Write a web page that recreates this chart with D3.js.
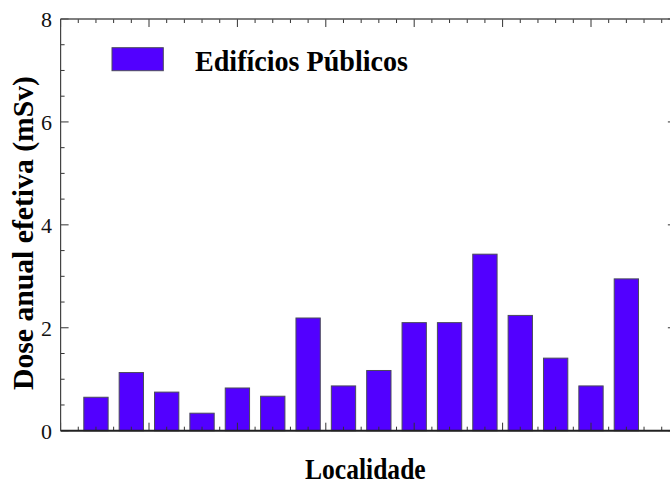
<!DOCTYPE html>
<html><head><meta charset="utf-8">
<script src="https://cdn.jsdelivr.net/npm/d3@7"></script>
<style>html,body{margin:0;padding:0;background:#fff;overflow:hidden}
svg text{font-family:"Liberation Serif","Times New Roman",serif}</style>
</head><body>
<script>
const categories = ["L1","L2","L3","L4","L5","L6","L7","L8","L9","L10","L11","L12","L13","L14","L15","L16"];
const doseValues = [0.65,1.13,0.75,0.34,0.83,0.67,2.19,0.87,1.17,2.10,2.10,3.43,2.24,1.41,0.87,2.95];
const seriesName = "Edifícios Públicos";
const yTickLabels = [0,2,4,6,8];
const xLabel = "Localidade";
const yLabel = "Dose anual efetiva (mSv)";

(function(){
const W = 670, H = 484;
const pL = 60.6, pT = 19, pB = 430.7;
const unitPx = 88.4, xMax = 6.96;
const pR = pL + unitPx * xMax;
const svg = d3.select("body").append("svg").attr("width", W).attr("height", H);

const x = d3.scaleLinear().domain([0, xMax]).range([pL, pR]);
const y = d3.scaleLinear().domain([0, 8]).range([pB, pT]);
const step = 0.4, barW = 0.275;

// bars
svg.selectAll("rect.bar").data(doseValues).join("rect")
  .attr("class","bar")
  .attr("x", (d,i) => x((i+1)*step - barW/2))
  .attr("width", x(barW) - x(0))
  .attr("y", d => y(d))
  .attr("height", d => y(0) - y(d))
  .attr("fill", "#5200ff").attr("stroke", "#4a4a5a").attr("stroke-width", 1);

// ticks
const axisColor = "#333";
const xMinor = d3.range(0, xMax + 0.0001, 0.2);
const yMinor = d3.range(0, 8.0001, 0.5);
const isMajor = v => Math.abs(v - Math.round(v)) < 1e-6;
const isMajorY = v => Math.abs(v/2 - Math.round(v/2)) < 1e-6;
const g = svg.append("g").attr("stroke", axisColor).attr("stroke-width", 1);
xMinor.forEach(v => {
  const L = isMajor(v) ? 8 : 4;
  g.append("line").attr("x1", x(v)).attr("x2", x(v)).attr("y1", pB).attr("y2", pB - L);
  g.append("line").attr("x1", x(v)).attr("x2", x(v)).attr("y1", pT).attr("y2", pT + L);
});
yMinor.forEach(v => {
  const L = isMajorY(v) ? 8 : 4;
  g.append("line").attr("x1", pL).attr("x2", pL + L).attr("y1", y(v)).attr("y2", y(v));
  g.append("line").attr("x1", pR).attr("x2", pR - L).attr("y1", y(v)).attr("y2", y(v));
});
// frame
svg.append("line").attr("x1", pL).attr("x2", pR).attr("y1", pB).attr("y2", pB).attr("stroke", "#222").attr("stroke-width", 2);
svg.append("line").attr("x1", pL).attr("x2", pR).attr("y1", pT).attr("y2", pT).attr("stroke", "#555").attr("stroke-width", 1.5);
svg.append("line").attr("x1", pL).attr("x2", pL).attr("y1", pT).attr("y2", pB).attr("stroke", "#444").attr("stroke-width", 1.2);
svg.append("line").attr("x1", pR).attr("x2", pR).attr("y1", pT).attr("y2", pB).attr("stroke", "#444").attr("stroke-width", 1.2);

// y tick labels
svg.selectAll("text.yt").data(yTickLabels).join("text")
  .attr("class","yt")
  .attr("x", 52).attr("y", d => y(d) + 8)
  .attr("text-anchor","end")
  .attr("font-size", 22)
  .attr("fill","#111").text(d => d);

// axis labels
svg.append("text").attr("x", 305).attr("y", 479.3)
  .attr("textLength", 120.7).attr("lengthAdjust","spacingAndGlyphs")
  .attr("font-weight","bold").attr("font-size", 29)
  .attr("fill","#000").text(xLabel);
svg.append("text").attr("transform", "translate(33,390) rotate(-90)")
  .attr("x", 0).attr("y", 0)
  .attr("textLength", 314).attr("lengthAdjust","spacingAndGlyphs")
  .attr("font-weight","bold").attr("font-size", 29)
  .attr("fill","#000").text(yLabel);

// legend
svg.append("rect").attr("x", 112).attr("y", 47.7).attr("width", 51.3).attr("height", 23)
  .attr("fill", "#5200ff").attr("stroke", "#4a4a5a").attr("stroke-width", 1);
svg.append("text").attr("x", 195).attr("y", 71)
  .attr("textLength", 213).attr("lengthAdjust","spacingAndGlyphs")
  .attr("font-weight","bold").attr("font-size", 29)
  .attr("fill","#000").text(seriesName);
})();
</script>
</body></html>
